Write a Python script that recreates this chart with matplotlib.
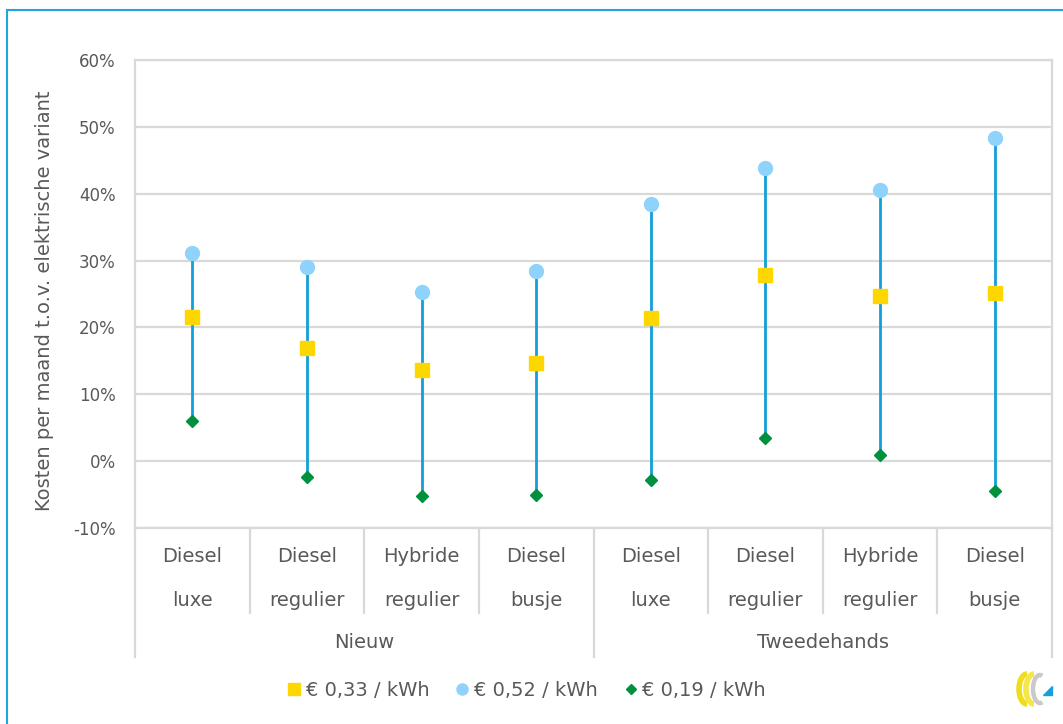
import matplotlib.pyplot as plt
from matplotlib.lines import Line2D
from matplotlib.patches import Arc, Polygon, Rectangle

# kosten per maand t.o.v. elektrische variant (%)
categorieen = ["Diesel\nluxe", "Diesel\nregulier", "Hybride\nregulier", "Diesel\nbusje",
               "Diesel\nluxe", "Diesel\nregulier", "Hybride\nregulier", "Diesel\nbusje"]
groepen = ["Nieuw", "Tweedehands"]
groep_grootte = [4, 4]

prijs_033 = [21.6, 16.9, 13.6, 14.7, 21.4, 27.9, 24.7, 25.2]
prijs_052 = [31.2, 29.1, 25.3, 28.5, 38.4, 43.9, 40.5, 48.3]
prijs_019 = [6.0, -2.4, -5.2, -5.1, -2.8, 3.4, 0.9, -4.5]

legenda = ["€ 0,33 / kWh", "€ 0,52 / kWh", "€ 0,19 / kWh"]
y_ticks = [-10, 0, 10, 20, 30, 40, 50, 60]

TEKST = "#595959"
GRIJS = "#d9d9d9"
LIJN = "#129fd8"
GEEL = "#ffd700"
BLAUW = "#8fd3fc"
GROEN = "#00913f"

plt.rcParams['font.family'] = ['DejaVu Sans']

fig = plt.figure(figsize=(10.63, 7.24), dpi=100)
W, H = 1063, 724
ax = fig.add_axes([135 / W, 1 - 528 / H, (1052 - 135) / W, (528 - 60) / H])

x = list(range(len(categorieen)))

# hoog-laag lijnen + markers
ax.vlines(x, prijs_019, prijs_052, color=LIJN, lw=2, zorder=2)
ax.plot(x, prijs_033, ls="none", marker="s", ms=10, color=GEEL, zorder=3)
ax.plot(x, prijs_052, ls="none", marker="o", ms=10, color=BLAUW, zorder=3)
ax.plot(x, prijs_019, ls="none", marker="D", ms=6.5, color=GROEN, zorder=3)

ax.set_xlim(-0.5, len(categorieen) - 0.5)
ax.set_ylim(-10, 60)
ax.set_yticks(y_ticks)
ax.set_yticklabels([f"{v}%" for v in y_ticks], fontsize=12, color=TEKST)
ax.tick_params(axis="y", length=0, pad=14)
ax.set_xticks([])
ax.grid(axis="y", color=GRIJS, lw=1.6, zorder=0)
for s in ax.spines.values():
    s.set_color(GRIJS)
    s.set_linewidth(1.6)

fig.text(45 / W, 1 - 301 / H, "Kosten per maand t.o.v. elektrische variant",
         rotation=90, ha="center", va="center", fontsize=14, color=TEKST)

# categorie-as met twee niveaus
tr = ax.get_xaxis_transform()
def fy(py):
    return (528 - py) / 468

for i, lab in enumerate(categorieen):
    boven, onder = lab.split("\n")
    ax.text(i, fy(556), boven, transform=tr, ha="center", va="center",
            fontsize=14, color=TEKST)
    ax.text(i, fy(600), onder, transform=tr, ha="center", va="center",
            fontsize=14, color=TEKST)

grenzen = [-0.5]
for n in groep_grootte:
    grenzen.append(grenzen[-1] + n)

for k in range(len(categorieen) + 1):
    xs = k - 0.5
    y_end = fy(657) if xs in grenzen else fy(613)
    ax.add_line(Line2D([xs, xs], [0, y_end], transform=tr, color=GRIJS,
                       lw=1.6, clip_on=False))

for g, naam in enumerate(groepen):
    midden = (grenzen[g] + grenzen[g + 1]) / 2
    ax.text(midden, fy(642), naam, transform=tr, ha="center", va="center",
            fontsize=14, color=TEKST)

# legenda
handles = [
    Line2D([], [], ls="none", marker="s", ms=8, color=GEEL),
    Line2D([], [], ls="none", marker="o", ms=8, color=BLAUW),
    Line2D([], [], ls="none", marker="D", ms=5.5, color=GROEN),
]
fig.legend(handles, legenda, loc="center", bbox_to_anchor=(527 / W, 1 - 690 / H),
           ncol=3, frameon=False, fontsize=14, handlelength=0.6,
           handletextpad=0.3, columnspacing=1.4, labelcolor=TEKST)

# blauwe rand
fig.add_artist(Rectangle((7 / W, -0.1), 1.2, 1 - 10 / H + 0.1, transform=fig.transFigure,
                         fill=False, ec="#1ea4e0", lw=1.5))

# logo
lx = fig.add_axes([1010 / W, 1 - 710 / H, 46 / W, 42 / H])
lx.set_xlim(0, 46)
lx.set_ylim(0, 42)
lx.set_aspect("equal")
lx.axis("off")
lx.add_patch(Arc((17, 21), 16, 30, theta1=90, theta2=270, color="#f0dc1e", lw=4))
lx.add_patch(Arc((24, 21), 16, 30, theta1=90, theta2=270, color="#f5e64a", lw=4))
lx.add_patch(Arc((30, 21), 14, 28, theta1=80, theta2=280, color="#c9c9c9", lw=3.2))
lx.add_patch(Polygon([[33, 15], [42, 15], [42, 24]], closed=True, color="#1a9ee0"))

fig.savefig("out.png", dpi=100)
